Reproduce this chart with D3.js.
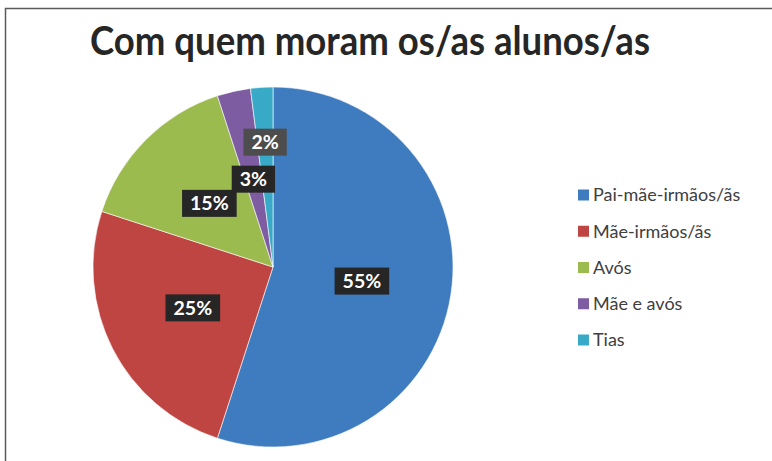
<!DOCTYPE html>
<html>
<head>
<meta charset="utf-8">
<script src="https://cdn.jsdelivr.net/npm/d3@7"></script>
<style>
  html, body { margin: 0; padding: 0; background: #fff; }
  svg { display: block; }
</style>
</head>
<body>
<script>
const title = "Com quem moram os/as alunos/as";
const categories = ["Pai-mãe-irmãos/ãs", "Mãe-irmãos/ãs", "Avós", "Mãe e avós", "Tias"];
const values = [55, 25, 15, 3, 2];
const colors = ["#3F7CBF", "#BF4542", "#9BBB4F", "#7E5CA1", "#38AAC8"];

const W = 772, H = 461;
const svg = d3.select("body").append("svg").attr("width", W).attr("height", H);

// frame
svg.append("path")
  .attr("d", `M5.5,${H + 2} L5.5,8.5 L${W + 2},8.5`)
  .attr("fill", "none").attr("stroke", "#5a5a5a").attr("stroke-width", 1.5);

// title
svg.append("text")
  .attr("x", 370).attr("y", 55)
  .attr("text-anchor", "middle")
  .attr("font-family", "Lato, 'Open Sans', sans-serif")
  .attr("font-weight", "bold")
  .attr("font-size", 40)
  .attr("textLength", 560)
  .attr("lengthAdjust", "spacingAndGlyphs")
  .attr("fill", "#262626")
  .text(title);

const cx = 273, cy = 267, R = 180;
const g = svg.append("g").attr("transform", `translate(${cx},${cy})`);

const pie = d3.pie().sort(null).value(d => d);
const arcs = pie(values);
const arc = d3.arc().innerRadius(0).outerRadius(R);

g.selectAll("path.slice").data(arcs).enter().append("path")
  .attr("class", "slice")
  .attr("d", arc)
  .attr("fill", (d, i) => colors[i])
  .attr("stroke", "#ffffff").attr("stroke-width", 0.6);

// labels
const total = d3.sum(values);
arcs.forEach((d, i) => {
  const a = (d.startAngle + d.endAngle) / 2;
  const rr = (i === arcs.length - 1) ? R * 0.695 : R * 0.5;
  const x = Math.sin(a) * rr, y = -Math.cos(a) * rr;
  const lg = g.append("g").attr("transform", `translate(${x},${y})`);
  const t = lg.append("text")
    .attr("text-anchor", "middle").attr("dy", "0.36em")
    .attr("font-family", "Lato, 'Open Sans', sans-serif")
    .attr("font-weight", "bold").attr("font-size", 19.5)
    .attr("fill", "#ffffff")
    .text(Math.round(values[i] / total * 100) + "%");
  const bb = t.node().getBBox();
  lg.insert("rect", "text")
    .attr("x", bb.x - 8).attr("y", -13.5)
    .attr("width", bb.width + 16).attr("height", 27)
    .attr("fill", i === arcs.length - 1 ? "#4d4d4d" : "#262626");
});

// legend
const lgY = d3.scalePoint().domain(categories).range([195, 340]);
const leg = svg.append("g");
categories.forEach((c, i) => {
  leg.append("rect")
    .attr("x", 578).attr("y", lgY(c) - 5.5)
    .attr("width", 11).attr("height", 11)
    .attr("fill", colors[i]);
  leg.append("text")
    .attr("x", 593).attr("y", lgY(c))
    .attr("dy", "0.35em")
    .attr("font-family", "Lato, 'Open Sans', sans-serif")
    .attr("font-size", 18)
    .attr("fill", "#404040")
    .text(c);
});
</script>
</body>
</html>
